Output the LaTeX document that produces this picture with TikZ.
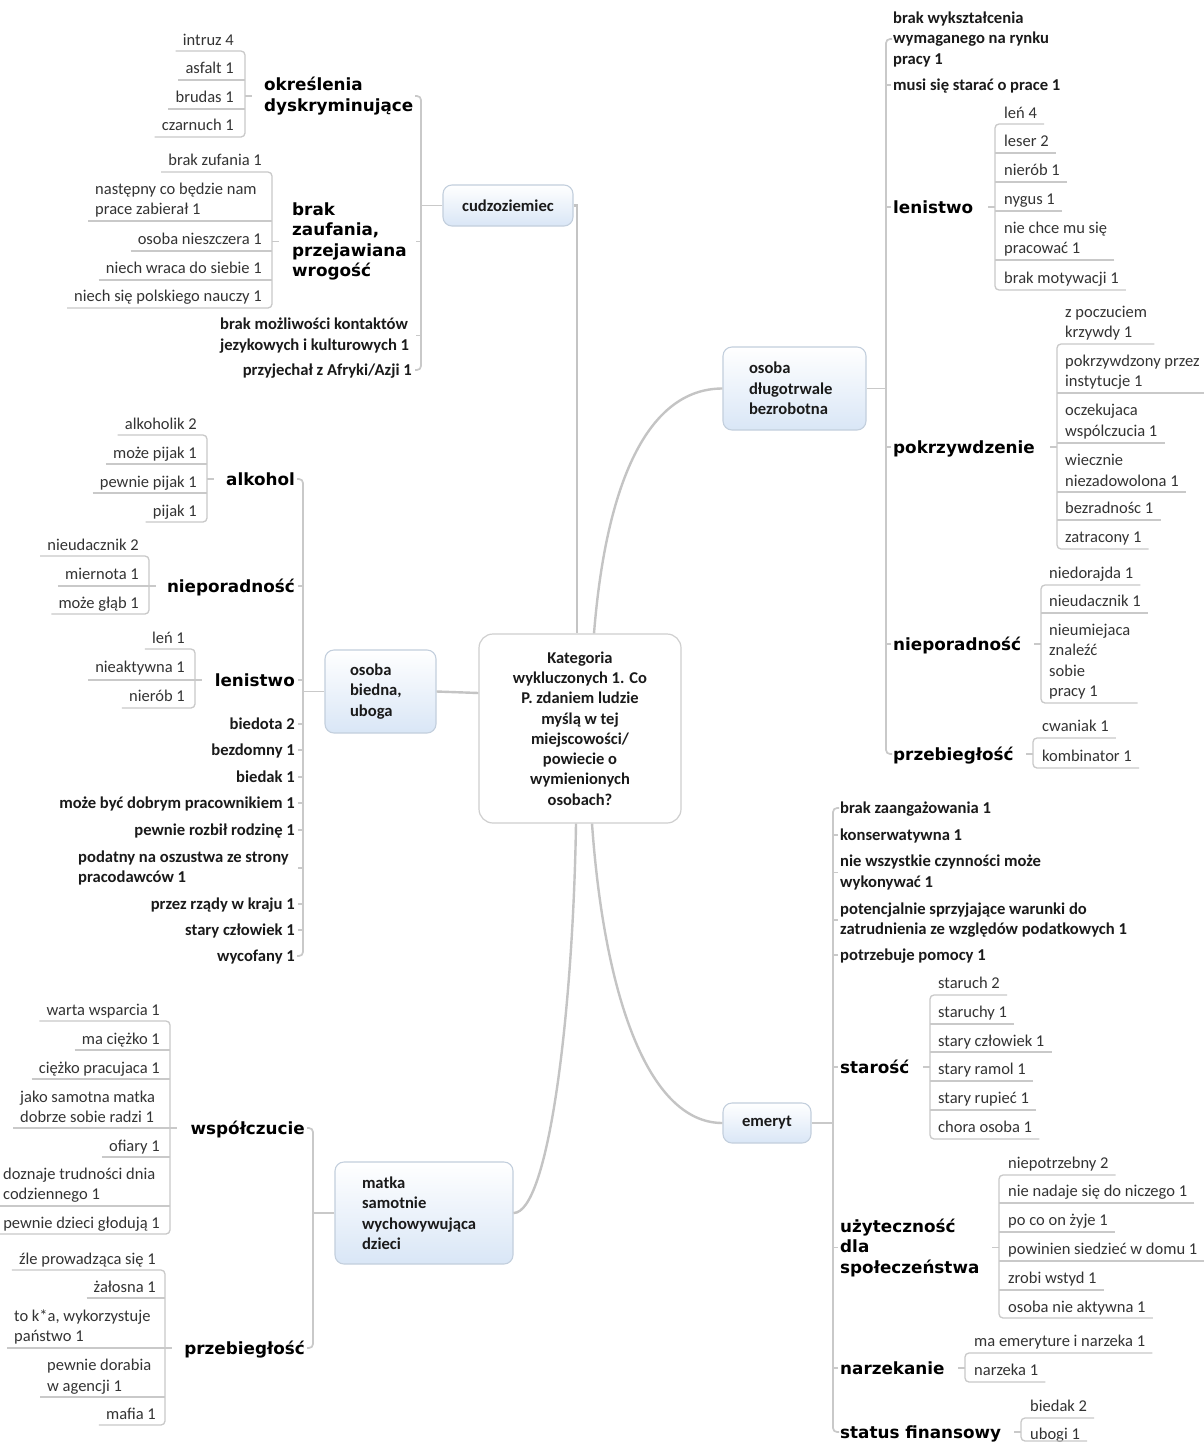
\documentclass[tikz,border=0pt]{standalone}
\usepackage{fontspec}
\setmainfont{Carlito}
\newfontfamily\dvs{DejaVu Sans}
\definecolor{linec}{HTML}{C9C9C9}
\definecolor{mainc}{HTML}{C4C4C4}
\definecolor{leafc}{HTML}{333333}
\definecolor{boldc}{HTML}{1A1A1A}
\definecolor{boxblue}{HTML}{D9E6F6}
\definecolor{boxedge}{HTML}{C3CFDD}
\definecolor{ctredge}{HTML}{CFCFCF}
\tikzset{
 lf/.style={inner sep=0pt, font=\fontsize{16.5}{20.5}\selectfont, text=leafc},
 bl/.style={inner sep=0pt, font=\fontsize{16.6}{20.5}\selectfont\bfseries, text=boldc},
 hd/.style={inner sep=0pt, font=\dvs\fontsize{16.8}{20.5}\selectfont\bfseries, text=black},
 oneline/.style={text height=14.7pt, text depth=3pt},
 onehd/.style={text height=16.2pt, text depth=3pt},
 thinl/.style={draw=linec, line width=1.3pt},
 spinel/.style={draw=linec, line width=1.7pt},
 mainl/.style={draw=mainc, line width=2.4pt},
 mbox/.style={draw=boxedge, line width=1.1pt, rounded corners=9pt, top color=white, bottom color=boxblue, font=\fontsize{16.6}{20.5}\selectfont\bfseries, text=boldc, inner ysep=0pt},
}
% leaves
\newcommand\lfE[5]{\node[lf,oneline,anchor=east] (#1) at (#2,#3) {#4};
 \coordinate (#1-v) at (#1.west |- 0,#5); \coordinate (#1-u) at ([xshift=-7pt]#1-v);}
\newcommand\lfM[5]{\node[lf,align=left,anchor=west] (#1) at (#2,#3) {#4};
 \coordinate (#1-v) at (#1.west |- 0,#5); \coordinate (#1-u) at ([xshift=-7pt]#1-v);}
\newcommand\rfW[5]{\node[lf,oneline,anchor=west] (#1) at (#2,#3) {#4};
 \coordinate (#1-v) at (#1.east |- 0,#5); \coordinate (#1-u) at ([xshift=7pt]#1-v);}
\newcommand\rfM[5]{\node[lf,align=left,anchor=west] (#1) at (#2,#3) {#4};
 \coordinate (#1-v) at (#1.east |- 0,#5); \coordinate (#1-u) at ([xshift=7pt]#1-v);}
% brackets
\newcommand\brk[3]{\draw[thinl,rounded corners=4pt] (#2-u) -- (#2-u -| #1) -- (#3-u -| #1) -- (#3-u);}
\newcommand\ulines[2]{\foreach \m in {#2}{\draw[thinl] (\m-u) -- (\m-u -| #1);}}
\newcommand\tickL[2]{\draw[thinl] (#2.west -| #1) -- ++(7,0);}
\newcommand\tickR[2]{\draw[thinl] (#2.east -| #1) -- ++(-7,0);}
% spines
\newcommand\spL[3]{\coordinate (#1t) at (#2.east -| #1); \coordinate (#1b) at (#3.east -| #1);
 \draw[spinel,rounded corners=4pt] ([xshift=-6pt]#1t) -- (#1t) -- (#1b) -- ([xshift=-6pt]#1b);}
\newcommand\spR[3]{\coordinate (#1t) at (#2.west -| #1); \coordinate (#1b) at (#3.west -| #1);
 \draw[spinel,rounded corners=4pt] ([xshift=6pt]#1t) -- (#1t) -- (#1b) -- ([xshift=6pt]#1b);}
\newcommand\stL[2]{\foreach \m in {#2}{\draw[thinl] (\m.east -| #1) -- ++(-5,0);}}
\newcommand\stR[2]{\foreach \m in {#2}{\draw[thinl] (\m.west -| #1) -- ++(5,0);}}
\begin{document}
\begin{tikzpicture}[x=1pt,y=-1pt]
\fill[white] (0,0) rectangle (1203,1443);
\useasboundingbox (0,0) rectangle (1203,1443);

% ---------- main nodes
\node[draw=ctredge, line width=1.2pt, rounded corners=14pt, fill=white, minimum width=202pt, minimum height=189pt, align=center, inner sep=0pt, font=\fontsize{16.5}{20.3}\selectfont\bfseries, text=boldc] (ctr) at (580,728.5) {Kategoria\\wykluczonych 1. Co\\P. zdaniem ludzie\\myślą w tej\\miejscowości/\\powiecie o\\wymienionych\\osobach?};
\node[mbox, minimum width=130pt, minimum height=41pt] (cud) at (508,205.5) {cudzoziemiec};
\node[mbox, minimum width=143pt, minimum height=83pt, text width=91pt, inner xsep=26pt, align=left] (dl) at (794.5,388.5) {osoba\\długotrwale\\bezrobotna};
\node[mbox, minimum width=111pt, minimum height=83pt, text width=61pt, inner xsep=25pt, align=left] (bi) at (380.5,691.5) {osoba\\biedna,\\uboga};
\node[mbox, minimum width=178pt, minimum height=102pt, text width=124pt, inner xsep=27pt, align=left] (mt) at (424,1213) {matka\\samotnie\\wychowywująca\\dzieci};
\node[mbox, minimum width=88pt, minimum height=40pt] (em) at (767,1123) {emeryt};

% ---------- main connectors
\coordinate (cT) at ([xshift=-3pt]ctr.north);
\draw[mainl] (cud.east) -- (cud.east -| cT) -- (cT);
\draw[mainl] ([xshift=14pt]ctr.north) .. controls +(12,-150) and +(-75,0) .. (dl.west);
\draw[mainl] (bi.east) -- ([yshift=35.5pt]ctr.west);
\draw[mainl] ([xshift=-4pt]ctr.south) .. controls +(-3,190) and +(35,0) .. (mt.east);
\draw[mainl] ([xshift=12pt]ctr.south) .. controls +(12,170) and +(-75,0) .. (em.west);

% ========== cudzoziemiec
\coordinate (sp1) at (421,0);
\node[hd,align=left,anchor=west] (okr) at (264,96) {określenia\\dyskryminujące};
\node[hd,align=left,anchor=west] (bz) at (292,241.5) {brak\\zaufania,\\przejawiana\\wrogość};
\node[bl,align=left,anchor=west] (bm) at (220,335.5) {brak możliwości kontaktów\\jezykowych i kulturowych 1};
\node[bl,oneline,anchor=east] (pz) at (412,370) {przyjechał z Afryki/Azji 1};
\spL{sp1}{okr}{pz}
\stL{sp1}{bz,bm}
\draw[thinl] (cud.west) -- (cud.west -| sp1);

\coordinate (bA) at (245,0);
\lfE{a1}{234}{40}{intruz 4}{51}
\lfE{a2}{234}{68}{asfalt 1}{80}
\lfE{a3}{234}{97}{brudas 1}{109}
\lfE{a4}{234}{125}{czarnuch 1}{137}
\brk{bA}{a1}{a4}
\ulines{bA}{a2,a3}
\tickL{bA}{okr}

\coordinate (bB) at (272,0);
\lfE{b1}{262}{160}{brak zufania 1}{172}
\lfM{b2}{95}{200}{następny co będzie nam\\prace zabierał 1}{221}
\lfE{b3}{262}{239}{osoba nieszczera 1}{251}
\lfE{b4}{262}{268}{niech wraca do siebie 1}{280}
\lfE{b5}{262}{296}{niech się polskiego nauczy 1}{308}
\brk{bB}{b1}{b5}
\ulines{bB}{b2,b3,b4}
\tickL{bB}{bz}

% ========== osoba biedna
\coordinate (sp2) at (303,0);
\node[hd,onehd,anchor=east] (c1) at (295,479) {alkohol};
\node[hd,onehd,anchor=east] (c2) at (295,586) {nieporadność};
\node[hd,onehd,anchor=east] (c3) at (295,680) {lenistwo};
\node[bl,oneline,anchor=east] (c4) at (295,724) {biedota 2};
\node[bl,oneline,anchor=east] (c5) at (295,750) {bezdomny 1};
\node[bl,oneline,anchor=east] (c6) at (295,777) {biedak 1};
\node[bl,oneline,anchor=east] (c7) at (295,803) {może być dobrym pracownikiem 1};
\node[bl,oneline,anchor=east] (c8) at (295,830) {pewnie rozbił rodzinę 1};
\node[bl,align=left,anchor=west] (c9) at (78,868) {podatny na oszustwa ze strony\\pracodawców 1};
\node[bl,oneline,anchor=east] (c10) at (295,904) {przez rządy w kraju 1};
\node[bl,oneline,anchor=east] (c11) at (295,930) {stary człowiek 1};
\node[bl,oneline,anchor=east] (c12) at (295,956) {wycofany 1};
\spL{sp2}{c1}{c12}
\stL{sp2}{c2,c3,c4,c5,c6,c7,c8,c9,c10,c11}
\draw[thinl] (bi.west) -- (bi.west -| sp2);

\coordinate (bC) at (207,0);
\lfE{d1}{197}{424}{alkoholik 2}{435}
\lfE{d2}{197}{453}{może pijak 1}{464}
\lfE{d3}{197}{482}{pewnie pijak 1}{493}
\lfE{d4}{197}{511}{pijak 1}{522}
\brk{bC}{d1}{d4}
\ulines{bC}{d2,d3}
\tickL{bC}{c1}

\coordinate (bD) at (149,0);
\lfE{e1}{139}{545}{nieudacznik 2}{556}
\lfE{e2}{139}{574}{miernota 1}{586}
\lfE{e3}{139}{603}{może głąb 1}{614}
\brk{bD}{e1}{e3}
\ulines{bD}{e2}
\tickL{bD}{c2}

\coordinate (bE) at (195,0);
\lfE{f1}{185}{638}{leń 1}{649}
\lfE{f2}{185}{667}{nieaktywna 1}{680}
\lfE{f3}{185}{696}{nierób 1}{708}
\brk{bE}{f1}{f3}
\ulines{bE}{f2}
\tickL{bE}{c3}

% ========== matka
\coordinate (sp3) at (313,0);
\node[hd,onehd,anchor=east] (g1) at (305,1128) {współczucie};
\node[hd,onehd,anchor=east] (g2) at (305,1348) {przebiegłość};
\spL{sp3}{g1}{g2}
\draw[thinl] (mt.west) -- (mt.west -| sp3);

\coordinate (bF) at (170,0);
\lfE{h1}{160}{1010}{warta wsparcia 1}{1021}
\lfE{h2}{160}{1039}{ma ciężko 1}{1050}
\lfE{h3}{160}{1068}{ciężko pracujaca 1}{1079}
\lfM{h4}{20}{1107}{jako samotna matka\\dobrze sobie radzi 1}{1128}
\lfE{h5}{160}{1146}{ofiary 1}{1157}
\lfM{h6}{3}{1185}{doznaje trudności dnia\\codziennego 1}{1206}
\lfE{h7}{160}{1223}{pewnie dzieci głodują 1}{1234}
\brk{bF}{h1}{h7}
\ulines{bF}{h2,h3,h4,h5,h6}
\tickL{bF}{g1}

\coordinate (bG) at (165,0);
\lfE{i1}{156}{1259}{źle prowadząca się 1}{1270}
\lfE{i2}{156}{1287}{żałosna 1}{1298}
\lfM{i3}{14}{1327}{to k*a, wykorzystuje\\państwo 1}{1348}
\lfM{i4}{47}{1376.5}{pewnie dorabia\\w agencji 1}{1397}
\lfE{i5}{156}{1414}{mafia 1}{1425}
\brk{bG}{i1}{i5}
\ulines{bG}{i2,i3,i4}
\tickL{bG}{g2}

% ========== osoba dlugotrwale bezrobotna
\coordinate (sp4) at (886,0);
\node[bl,align=left,anchor=west] (j1) at (893,39) {brak wykształcenia\\wymaganego na rynku\\pracy 1};
\node[bl,oneline,anchor=west] (j2) at (893,85) {musi się starać o prace 1};
\node[hd,onehd,anchor=west] (j3) at (893,207) {lenistwo};
\node[hd,onehd,anchor=west] (j4) at (893,447) {pokrzywdzenie};
\node[hd,onehd,anchor=west] (j5) at (893,644) {nieporadność};
\node[hd,onehd,anchor=west] (j6) at (893,754) {przebiegłość};
\spR{sp4}{j1}{j6}
\stR{sp4}{j2,j3,j4,j5}
\draw[thinl] (dl.east) -- (dl.east -| sp4);

\coordinate (bH) at (995,0);
\rfW{k1}{1004}{113}{leń 4}{124}
\rfW{k2}{1004}{141}{leser 2}{153}
\rfW{k3}{1004}{170}{nierób 1}{182}
\rfW{k4}{1004}{199}{nygus 1}{211}
\rfM{k5}{1004}{239}{nie chce mu się\\pracować 1}{260}
\rfW{k6}{1004}{278}{brak motywacji 1}{290}
\brk{bH}{k1}{k6}
\ulines{bH}{k2,k3,k4,k5}
\tickR{bH}{j3}

\coordinate (bI) at (1057,0);
\rfM{l1}{1065}{323}{z poczuciem\\krzywdy 1}{344}
\rfM{l2}{1065}{372}{pokrzywdzony przez\\instytucje 1}{393}
\rfM{l3}{1065}{421.5}{oczekujaca\\wspólczucia 1}{443}
\rfM{l4}{1065}{470.5}{wiecznie\\niezadowolona 1}{492}
\rfW{l5}{1065}{508}{bezradnośc 1}{520}
\rfW{l6}{1065}{537}{zatracony 1}{549}
\brk{bI}{l1}{l6}
\ulines{bI}{l2,l3,l4,l5}
\tickR{bI}{j4}

\coordinate (bJ) at (1041,0);
\rfW{m1}{1049}{573}{niedorajda 1}{585}
\rfW{m2}{1049}{601}{nieudacznik 1}{613}
\rfM{m3}{1049}{661.5}{nieumiejaca\\znaleźć\\sobie\\pracy 1}{703}
\brk{bJ}{m1}{m3}
\ulines{bJ}{m2}
\tickR{bJ}{j5}

\coordinate (bK) at (1033,0);
\rfW{n1}{1042}{726}{cwaniak 1}{738}
\rfW{n2}{1042}{756}{kombinator 1}{768}
\brk{bK}{n1}{n2}
\tickR{bK}{j6}

% ========== emeryt
\coordinate (sp5) at (833,0);
\node[bl,oneline,anchor=west] (o1) at (840,808) {brak zaangażowania 1};
\node[bl,oneline,anchor=west] (o2) at (840,835) {konserwatywna 1};
\node[bl,align=left,anchor=west] (o3) at (840,872.5) {nie wszystkie czynności może\\wykonywać 1};
\node[bl,align=left,anchor=west] (o4) at (840,920) {potencjalnie sprzyjające warunki do\\zatrudnienia ze względów podatkowych 1};
\node[bl,oneline,anchor=west] (o5) at (840,955) {potrzebuje pomocy 1};
\node[hd,onehd,anchor=west] (o6) at (840,1067) {starość};
\node[hd,align=left,anchor=west] (o7) at (840,1247.5) {użyteczność\\dla\\społeczeństwa};
\node[hd,onehd,anchor=west] (o8) at (840,1368) {narzekanie};
\node[hd,onehd,anchor=west] (o9) at (840,1432) {status finansowy};
\spR{sp5}{o1}{o9}
\stR{sp5}{o2,o3,o4,o5,o6,o7,o8}
\draw[thinl] (em.east) -- (em.east -| sp5);

\coordinate (bL) at (930,0);
\rfW{p1}{938}{983}{staruch 2}{995}
\rfW{p2}{938}{1012}{staruchy 1}{1024}
\rfW{p3}{938}{1041}{stary człowiek 1}{1052}
\rfW{p4}{938}{1069}{stary ramol 1}{1081}
\rfW{p5}{938}{1098}{stary rupieć 1}{1110}
\rfW{p6}{938}{1127}{chora osoba 1}{1139}
\brk{bL}{p1}{p6}
\ulines{bL}{p2,p3,p4,p5}
\tickR{bL}{o6}

\coordinate (bM) at (999,0);
\rfW{q1}{1008}{1163}{niepotrzebny 2}{1175}
\rfW{q2}{1008}{1191}{nie nadaje się do niczego 1}{1203}
\rfW{q3}{1008}{1220}{po co on żyje 1}{1232}
\rfW{q4}{1008}{1249}{powinien siedzieć w domu 1}{1261}
\rfW{q5}{1008}{1278}{zrobi wstyd 1}{1290}
\rfW{q6}{1008}{1307}{osoba nie aktywna 1}{1318}
\brk{bM}{q1}{q6}
\ulines{bM}{q2,q3,q4,q5}
\tickR{bM}{o7}

\coordinate (bN) at (965,0);
\rfW{r1}{974}{1341}{ma emeryture i narzeka 1}{1353}
\rfW{r2}{974}{1370}{narzeka 1}{1382}
\brk{bN}{r1}{r2}
\tickR{bN}{o8}

\coordinate (bO) at (1021,0);
\rfW{s1}{1030}{1406}{biedak 2}{1418}
\rfW{s2}{1030}{1434}{ubogi 1}{1441}
\brk{bO}{s1}{s2}
\tickR{bO}{o9}
\end{tikzpicture}
\end{document}
